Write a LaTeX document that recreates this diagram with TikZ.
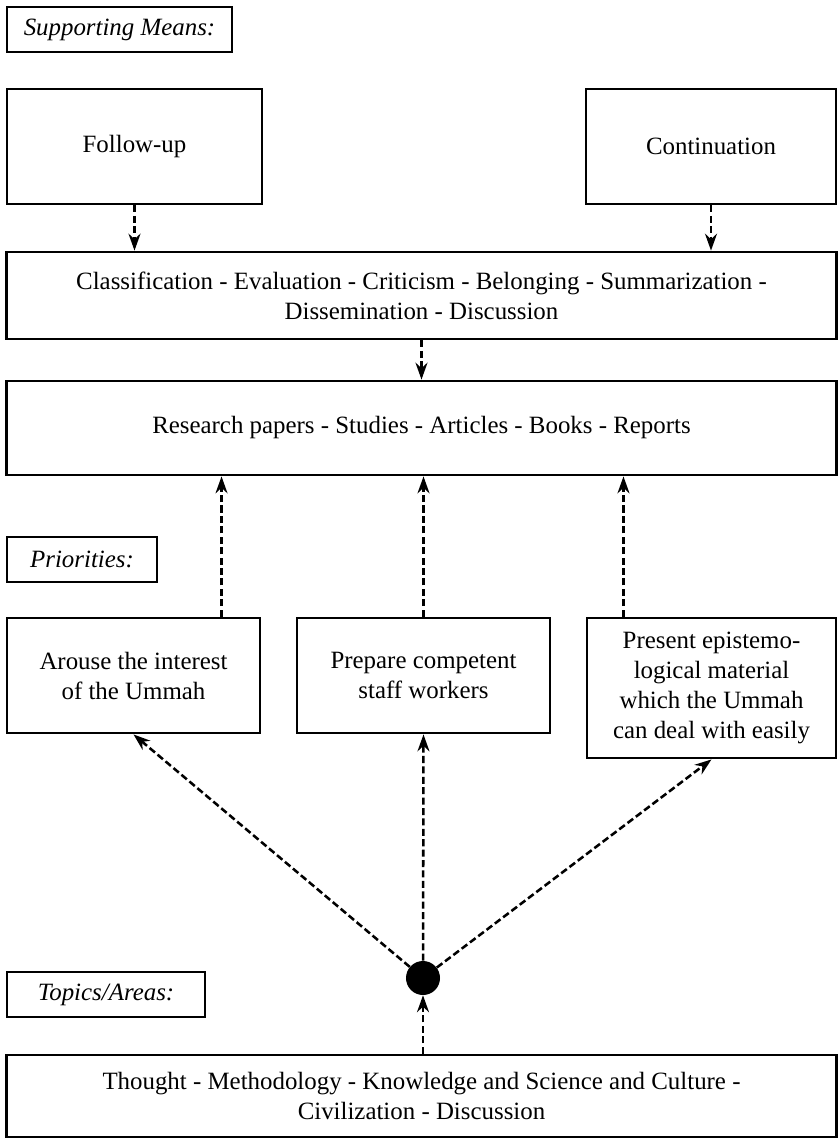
\documentclass[tikz,border=0pt]{standalone}
\usepackage{fontspec}
\setmainfont{Liberation Serif}
\usepackage{tikz}
\usetikzlibrary{arrows.meta}
\usetikzlibrary{positioning}
\tikzset{box/.style = {draw, line width=2pt, align=center, inner sep=0,
                       font=\fontsize{17.7}{21.3}\selectfont}}
\tikzset{caption/.style = {box, font=\fontsize{17.7}{21.3}\selectfont\itshape}}
\tikzset{darr/.style = {line width=1.8pt, dash pattern=on 5pt off 2.4pt,
                        -{Stealth[length=12pt, width=8.5pt]}}}
\tikzset{hub/.style = {fill, circle, inner sep = 0, minimum size = 0.85cm}}

\begin{document}
\begin{tikzpicture}[x=0.025cm, y=-0.025cm]
    \useasboundingbox (0, 0) rectangle (837, 1140);

    \node [caption, minimum width=5.625cm, minimum height=1.125cm] (means) at (119.5, 29.5) {Supporting Means:};
    \node [box, minimum width=6.375cm, minimum height=2.875cm] (followup) at (134.5, 146.5) {Follow-up};
    \node [box, minimum width=6.25cm, minimum height=2.875cm] (contin) at (711, 146.5) {Continuation};

    \node [box, minimum width=20.725cm, minimum height=2.175cm] (classif) at (421.5, 295.5)
      {Classification - Evaluation - Criticism - Belonging - Summarization -\\ Dissemination - Discussion};
    \node [box, minimum width=20.725cm, minimum height=2.35cm] (research) at (421.5, 428)
      {Research papers - Studies - Articles - Books - Reports};

    \node [caption, minimum width=3.75cm, minimum height=1.125cm] (prio) at (82, 559.5) {Priorities:};
    \node [box, minimum width=6.325cm, minimum height=2.875cm] (arouse) at (133.5, 675.5)
      {Arouse the interest\\ of the Ummah};
    \node [box, minimum width=6.325cm, minimum height=2.875cm] (prepare) at (423.5, 675.5)
      {Prepare competent\\ staff workers};
    \node [box, minimum width=6.225cm, minimum height=3.5cm] (present) at (711.5, 688)
      {Present epistemo-\\ logical material\\ which the Ummah\\ can deal with easily};

    \node [hub] (dot) at (423, 978) {};
    \node [caption, minimum width=4.95cm, minimum height=1.125cm] (topic) at (106, 994.5) {Topics/Areas:};
    \node [box, minimum width=20.725cm, minimum height=2.05cm] (topics) at (421.5, 1096)
      {Thought - Methodology - Knowledge and Science and Culture -\\ Civilization - Discussion};

    % upper part
    \draw [darr] (followup.south) -- (followup.south |- classif.north);
    \draw [darr] (contin.south) -- (contin.south |- classif.north);
    \draw [darr] (classif.south) -- (research.north);

    % priorities
    \draw [darr] ([xshift=2.2cm]arouse.north) -- ([xshift=2.2cm]arouse.north |- research.south);
    \draw [darr] (prepare.north) -- (prepare.north |- research.south);
    \draw [darr] ([xshift=-2.2cm]present.north) -- ([xshift=-2.2cm]present.north |- research.south);

    % hub
    \draw [darr] (dot) -- (arouse.south);
    \draw [darr] (dot) -- (prepare.south);
    \draw [darr] (dot) -- (present.south);
    \draw [darr] (dot |- topics.north) -- (dot);
  \end{tikzpicture}
\end{document}
